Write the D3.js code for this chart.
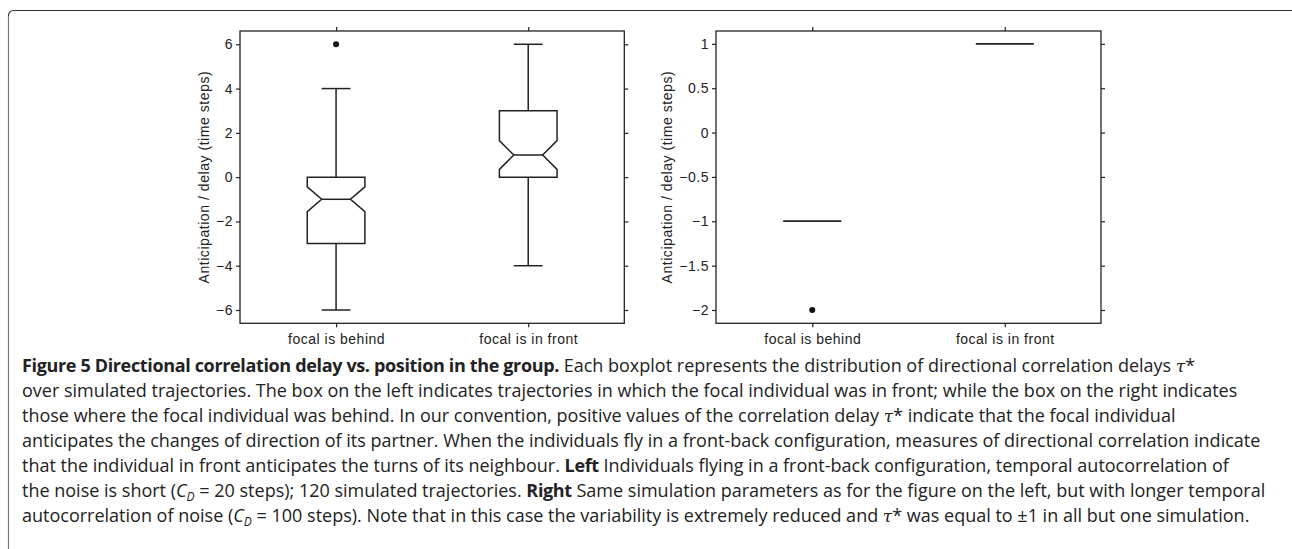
<!DOCTYPE html>
<html>
<head>
<meta charset="utf-8">
<script src="https://cdn.jsdelivr.net/npm/d3@7"></script>
<style>
  body { margin: 0; background: #fff; }
  svg { display: block; }
  .axis text { font-family: "Liberation Sans", Arial, sans-serif; font-size: 14px; letter-spacing: 0.5px; fill: #222; }
  .axis line { stroke: #222; stroke-width: 1.2; }
  .box { fill: none; stroke: #222; stroke-width: 1.5; }
  .caption { font-family: "Open Sans", sans-serif; font-size: 18px; fill: #222; }
</style>
</head>
<body>
<script>
// categories and tick labels
const categories = ["focal is behind", "focal is in front"];

// left panel (C_D = 20 steps)
const leftTicks = [-6, -4, -2, 0, 2, 4, 6];
const leftWhiskLo = [-6, -4];
const leftQ1 = [-3, 0];
const leftNotchLo = [-1.56, 0.35];
const leftMedian = [-1, 1];
const leftNotchHi = [-0.44, 1.65];
const leftQ3 = [0, 3];
const leftWhiskHi = [4, 6];
const leftOutliers = [[6], []];

// right panel (C_D = 100 steps)
const rightTicks = [-2, -1.5, -1, -0.5, 0, 0.5, 1];
const rightWhiskLo = [-1, 1];
const rightQ1 = [-1, 1];
const rightNotchLo = [-1, 1];
const rightMedian = [-1, 1];
const rightNotchHi = [-1, 1];
const rightQ3 = [-1, 1];
const rightWhiskHi = [-1, 1];
const rightOutliers = [[-2], []];

const yLabel = "Anticipation / delay (time steps)";

const width = 1292,
      height = 549,
      plotTop = 31,
      plotBottom = 323.3;

const captionLines = [
  [["b", "Figure 5 Directional correlation delay vs. position in the group."], ["r", " Each boxplot represents the distribution of directional correlation delays "], ["tau", "\u03c4"], ["r", "*"]],
  [["r", "over simulated trajectories. The box on the left indicates trajectories in which the focal individual was in front; while the box on the right indicates"]],
  [["r", "those where the focal individual was behind. In our convention, positive values of the correlation delay "], ["tau", "\u03c4"], ["r", "* indicate that the focal individual"]],
  [["r", "anticipates the changes of direction of its partner. When the individuals fly in a front-back configuration, measures of directional correlation indicate"]],
  [["r", "that the individual in front anticipates the turns of its neighbour. "], ["b", "Left"], ["r", " Individuals flying in a front-back configuration, temporal autocorrelation of"]],
  [["r", "the noise is short ("], ["cd", "C"], ["sub", "D"], ["up", " = 20 steps); 120 simulated trajectories. "], ["b", "Right"], ["r", " Same simulation parameters as for the figure on the left, but with longer temporal"]],
  [["r", "autocorrelation of noise ("], ["cd", "C"], ["sub", "D"], ["up", " = 100 steps). Note that in this case the variability is extremely reduced and "], ["tau", "\u03c4"], ["r", "* was equal to \u00b11 in all but one simulation."]]
];

function createBoxPlot(svg, left, right, domain, ticks, stats, outliers, labelOffset) {
    let x = d3.scaleLinear().domain([0.5, 2.5]).range([left, right]);
    let y = d3.scaleLinear().domain(domain).range([plotBottom, plotTop]);
    let boxHalf = (right - left) * 0.075;
    let notchHalf = boxHalf / 2;

    let g = svg.append("g");

    // axes: labelled on left and bottom, bare ticks on top and right
    g.append("g").attr("class", "axis")
        .attr("transform", "translate(" + left + ",0)")
        .call(d3.axisLeft(y).tickValues(ticks).tickSize(4).tickPadding(3).tickFormat(d3.format("")))
        .call(a => a.select(".domain").remove());
    g.append("g").attr("class", "axis")
        .attr("transform", "translate(" + right + ",0)")
        .call(d3.axisRight(y).tickValues(ticks).tickSize(4).tickFormat(""))
        .call(a => a.select(".domain").remove());
    g.append("g").attr("class", "axis")
        .attr("transform", "translate(0," + plotBottom + ")")
        .call(d3.axisBottom(x).tickValues([1, 2]).tickSize(4).tickPadding(7)
            .tickFormat(function (d) { return categories[d - 1]; }))
        .call(a => a.select(".domain").remove());
    g.append("g").attr("class", "axis")
        .attr("transform", "translate(0," + plotTop + ")")
        .call(d3.axisTop(x).tickValues([1, 2]).tickSize(4).tickFormat(""))
        .call(a => a.select(".domain").remove());

    g.append("rect")
        .attr("x", left).attr("y", plotTop)
        .attr("width", right - left).attr("height", plotBottom - plotTop)
        .attr("fill", "none").attr("stroke", "#222").attr("stroke-width", 1.3);

    g.append("text")
        .attr("text-anchor", "middle")
        .attr("transform", "translate(" + (left - labelOffset) + "," + ((plotTop + plotBottom) / 2) + ")rotate(-90)")
        .style("font-family", "'Liberation Sans', Arial, sans-serif")
        .style("font-size", "14px")
        .style("letter-spacing", "0.55px")
        .style("fill", "#222")
        .text(yLabel);

    categories.forEach(function (c, i) {
        let cx = x(i + 1);
        let s = stats[i];
        let flat = s.q1 === s.q3;

        // whiskers
        g.append("line").attr("class", "box")
            .attr("x1", cx).attr("x2", cx).attr("y1", y(s.q3)).attr("y2", y(s.hi));
        g.append("line").attr("class", "box")
            .attr("x1", cx).attr("x2", cx).attr("y1", y(s.q1)).attr("y2", y(s.lo));
        if (!flat) {
            g.append("line").attr("class", "box")
                .attr("x1", cx - notchHalf).attr("x2", cx + notchHalf).attr("y1", y(s.hi)).attr("y2", y(s.hi));
            g.append("line").attr("class", "box")
                .attr("x1", cx - notchHalf).attr("x2", cx + notchHalf).attr("y1", y(s.lo)).attr("y2", y(s.lo));
        }

        // notched box
        let pts = [
            [cx - boxHalf, y(s.q3)], [cx + boxHalf, y(s.q3)],
            [cx + boxHalf, y(s.notchHi)], [cx + notchHalf, y(s.med)],
            [cx + boxHalf, y(s.notchLo)], [cx + boxHalf, y(s.q1)],
            [cx - boxHalf, y(s.q1)], [cx - boxHalf, y(s.notchLo)],
            [cx - notchHalf, y(s.med)], [cx - boxHalf, y(s.notchHi)]
        ];
        g.append("path").attr("class", "box")
            .attr("d", d3.line()(pts) + "Z");

        // median
        g.append("line").attr("class", "box")
            .attr("stroke-width", flat ? 2.6 : 1.5)
            .attr("x1", flat ? cx - boxHalf : cx - notchHalf)
            .attr("x2", flat ? cx + boxHalf : cx + notchHalf)
            .attr("y1", y(s.med)).attr("y2", y(s.med));

        g.selectAll(null)
            .data(outliers[i])
            .enter()
            .append("circle")
            .attr("cx", cx)
            .attr("cy", function (d) { return y(d); })
            .attr("r", 3)
            .attr("fill", "#111");
    });
}

function statsOf(lo, q1, nLo, med, nHi, q3, hi) {
    return categories.map(function (c, i) {
        return {lo: lo[i], q1: q1[i], notchLo: nLo[i], med: med[i], notchHi: nHi[i], q3: q3[i], hi: hi[i]};
    });
}

function createCaption(svg) {
    let lineGap = 25;
    captionLines.forEach(function (parts, i) {
        let t = svg.append("text")
            .attr("class", "caption")
            .attr("x", 22)
            .attr("y", 372 + i * lineGap);
        parts.forEach(function (p) {
            let s = t.append("tspan").text(p[1]);
            if (p[0] === "b") s.style("font-weight", "bold").style("letter-spacing", "-0.35px");
            if (p[0] === "tau") s.style("font-family", "'DejaVu Serif', serif").style("font-style", "italic").style("font-size", "17px");
            if (p[0] === "cd") s.style("font-style", "italic");
            if (p[0] === "sub") s.style("font-style", "italic").style("font-size", "12px").attr("dy", 4);
            if (p[0] === "up") s.attr("dy", -4);
        });
    });
}

function init() {
    let svg = d3.select("body")
        .append("svg")
        .attr("width", width)
        .attr("height", height);

    // figure frame: rounded top-left corner, rule on top and left
    svg.append("path")
        .attr("d", "M8.5," + height + " L8.5,16")
        .attr("fill", "none")
        .attr("stroke", "#777")
        .attr("stroke-width", 1.2);
    svg.append("path")
        .attr("d", "M8.5,16 Q8.5,10.5 14,10.5 L" + width + ",10.5")
        .attr("fill", "none")
        .attr("stroke", "#333")
        .attr("stroke-width", 1.2);

    createBoxPlot(svg, 240, 624.3, [-6.6, 6.6], leftTicks,
        statsOf(leftWhiskLo, leftQ1, leftNotchLo, leftMedian, leftNotchHi, leftQ3, leftWhiskHi), leftOutliers, 31);
    createBoxPlot(svg, 716, 1101, [-2.15, 1.145], rightTicks,
        statsOf(rightWhiskLo, rightQ1, rightNotchLo, rightMedian, rightNotchHi, rightQ3, rightWhiskHi), rightOutliers, 44);

    createCaption(svg);
}

window.onload = init;
</script>
</body>
</html>
